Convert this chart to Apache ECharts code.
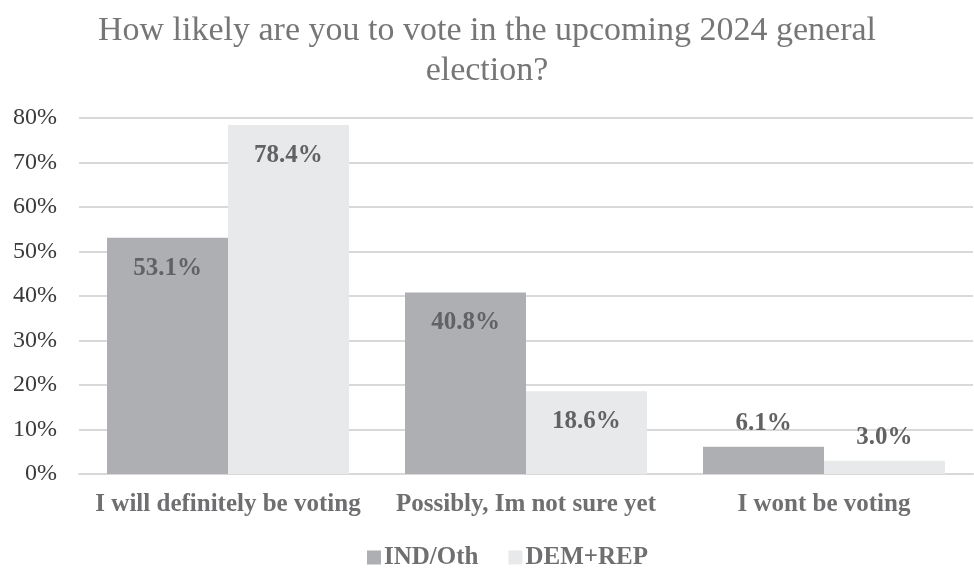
<!DOCTYPE html>
<html>
<head>
<meta charset="utf-8">
<script src="https://cdn.jsdelivr.net/npm/echarts@6/dist/echarts.min.js"></script>
<style>
  html, body { margin: 0; padding: 0; background: #fff; }
  #chart { width: 974px; height: 569px; }
</style>
</head>
<body>
<div id="chart"></div>
<script>
var categories = ['I will definitely be voting', 'Possibly, Im not sure yet', 'I wont be voting'];
var indOth = [53.1, 40.8, 6.1];   // IND/Oth
var demRep = [78.4, 18.6, 3.0];   // DEM+REP
var seriesNames = ['IND/Oth', 'DEM+REP'];

var serif = '"Liberation Serif", "DejaVu Serif", serif';

// small bars get their label above, like Excel does
function toData(arr) {
    return arr.map(function (v) {
        return {
            value: v,
            label: v < 10 ? { position: 'top', distance: 11 } : { position: 'insideTop', distance: 18 }
        };
    });
}

var myChart = echarts.init(document.getElementById('chart'));
var labelStyle = {
    show: true,
    fontFamily: serif,
    fontSize: 25,
    fontWeight: 'bold',
    color: '#626264',
    formatter: function (p) { return p.value.toFixed(1) + '%'; }
};

var option = {
    animation: false,
    title: {
        text: 'How likely are you to vote in the upcoming 2024 general\nelection?',
        left: 'center',
        top: 6,
        textStyle: {
            fontFamily: serif,
            fontSize: 34,
            fontWeight: 'normal',
            color: '#767676',
            lineHeight: 40
        }
    },
    legend: {
        top: 540,
        left: 362,
        itemWidth: 14,
        itemHeight: 14,
        itemGap: 30,
        icon: 'rect',
        data: seriesNames,
        textStyle: {
            fontFamily: serif,
            fontSize: 25,
            fontWeight: 'bold',
            color: '#6f6f71',
            padding: [0, 0, 0, -2]
        }
    },
    grid: {
        left: 79,
        right: 1,
        top: 118,
        bottom: 95,
        containLabel: false
    },
    xAxis: {
        type: 'category',
        data: categories,
        axisTick: { show: false },
        axisLine: { show: true, lineStyle: { color: '#d9d9d9', width: 2 } },
        axisLabel: {
            fontFamily: serif,
            fontSize: 25,
            fontWeight: 'bold',
            color: '#6f6f71',
            margin: 18,
            interval: 0
        }
    },
    yAxis: {
        type: 'value',
        min: 0,
        max: 80,
        interval: 10,
        axisLabel: {
            fontFamily: serif,
            fontSize: 24,
            color: '#3a3a3a',
            margin: 22,
            formatter: '{value}%'
        },
        splitLine: { lineStyle: { color: '#d9d9d9', width: 2 } }
    },
    series: [
        {
            name: seriesNames[0],
            type: 'bar',
            data: toData(indOth),
            barWidth: '40.6%',
            barGap: '0%',
            itemStyle: { color: '#aeafb2' },
            label: labelStyle
        },
        {
            name: seriesNames[1],
            type: 'bar',
            data: toData(demRep),
            barWidth: '40.6%',
            barGap: '0%',
            itemStyle: { color: '#e8e9eb' },
            label: labelStyle
        }
    ]
};

option && myChart.setOption(option);
</script>
</body>
</html>
